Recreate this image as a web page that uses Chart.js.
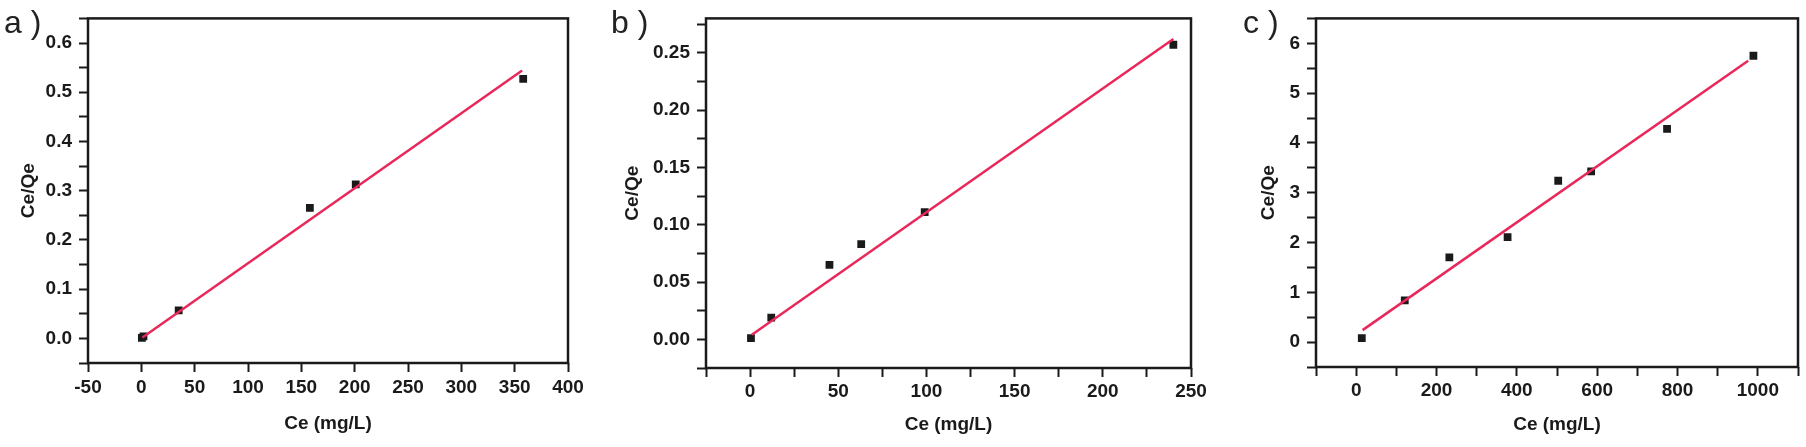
<!DOCTYPE html>
<html>
<head>
<meta charset="utf-8">
<script src="https://cdn.jsdelivr.net/npm/chart.js@4.4.1/dist/chart.umd.min.js"></script>
<style>
body { margin: 0; background: #fff; width: 1806px; height: 447px; position: relative; overflow: hidden; }
canvas { position: absolute; top: 0; }
.tag { position: absolute; top: 6px; font-family: "Liberation Sans", Arial, sans-serif; font-size: 32px; line-height: 32px; color: #222; white-space: pre; }
</style>
</head>
<body>
<canvas id="chartA" width="600" height="447" style="left:0px"></canvas>
<canvas id="chartB" width="630" height="447" style="left:600px"></canvas>
<canvas id="chartC" width="606" height="447" style="left:1200px"></canvas>
<div class="tag" style="left:4px">a )</div>
<div class="tag" style="left:611px">b )</div>
<div class="tag" style="left:1243px">c )</div>
<script>
const ceA = [0.5, 2, 35, 158, 201, 358];
const qeA = [0.001, 0.004, 0.057, 0.265, 0.313, 0.527];
const fitCeA = [1, 357];
const fitQeA = [0.002, 0.544];

const ceB = [0.5, 12, 45, 63, 99, 240];
const qeB = [0.001, 0.019, 0.065, 0.083, 0.111, 0.257];
const fitCeB = [1, 240];
const fitQeB = [0.004, 0.262];

const ceC = [14, 121, 232, 377, 503, 585, 774, 989];
const qeC = [0.08, 0.84, 1.70, 2.11, 3.24, 3.43, 4.28, 5.75];
const fitCeC = [16, 976];
const fitQeC = [0.24, 5.65];

const xTitle = 'Ce (mg/L)';
const yTitle = 'Ce/Qe';

const ink = '#1a1a1a';
const fitColor = 'rgb(232, 40, 90)';
const fontFamily = '"Liberation Sans", Arial, sans-serif';

function toPoints(xs, ys) {
    return xs.map((x, i) => ({x: x, y: ys[i]}));
}

function stepTicks(min, max, step) {
    let ticks = [];
    const n = Math.floor((max - min) / step + 1e-9);
    for (let i = 0; i <= n; i++) {
        ticks.push({value: +(min + i * step).toFixed(6)});
    }
    return ticks;
}

function isMultiple(value, major) {
    const r = value / major;
    return Math.abs(r - Math.round(r)) < 1e-6;
}

const frame = {
    id: 'frame',
    afterDraw(chart) {
        const {ctx, chartArea} = chart;
        ctx.save();
        ctx.strokeStyle = ink;
        ctx.lineWidth = 2.5;
        ctx.strokeRect(chartArea.left, chartArea.top, chartArea.right - chartArea.left, chartArea.bottom - chartArea.top);
        ctx.restore();
    }
};

function axis(opts) {
    const horizontal = opts.horizontal;
    return {
        type: 'linear',
        position: horizontal ? 'bottom' : 'left',
        min: opts.min,
        max: opts.max,
        afterBuildTicks(scale) {
            scale.ticks = stepTicks(opts.min, opts.max, opts.step);
        },
        afterFit(scale) {
            if (horizontal) {
                scale.height = opts.size;
            } else {
                scale.width = opts.size;
            }
        },
        border: {display: false},
        grid: {
            display: true,
            drawOnChartArea: false,
            drawTicks: true,
            tickLength: 9,
            tickWidth: 2,
            tickColor: ink
        },
        ticks: {
            autoSkip: false,
            maxRotation: 0,
            padding: opts.tickPad,
            color: ink,
            font: {family: fontFamily, size: 19, weight: 'bold'},
            callback: (value) => isMultiple(value, opts.major) ? opts.format(value) : ''
        },
        title: {
            display: true,
            text: horizontal ? xTitle : yTitle,
            color: ink,
            font: {family: fontFamily, size: 19, weight: 'bold'},
            padding: horizontal ? {top: 0, bottom: opts.titlePad} : {top: opts.titlePad, bottom: 0}
        }
    };
}

function makePanel(id, cfg) {
    new Chart(document.getElementById(id), {
        type: 'scatter',
        data: {
            datasets: [
                {
                    data: toPoints(cfg.fitX, cfg.fitY),
                    showLine: true,
                    borderColor: fitColor,
                    borderWidth: 2.5,
                    pointRadius: 0
                },
                {
                    data: toPoints(cfg.x, cfg.y),
                    pointStyle: 'rect',
                    pointRadius: 5.5,
                    backgroundColor: ink,
                    borderWidth: 0
                }
            ]
        },
        options: {
            responsive: false,
            animation: false,
            layout: {padding: {left: 0, top: cfg.top, right: cfg.right, bottom: 0}},
            plugins: {legend: {display: false}, tooltip: {enabled: false}},
            scales: {
                x: axis(Object.assign({horizontal: true}, cfg.xAxis)),
                y: axis(Object.assign({horizontal: false}, cfg.yAxis))
            }
        },
        plugins: [frame]
    });
}

makePanel('chartA', {
    x: ceA, y: qeA, fitX: fitCeA, fitY: fitQeA,
    top: 7, right: 32,
    xAxis: {min: -50, max: 400, step: 50, major: 50, format: v => String(v), size: 84, tickPad: 4, titlePad: 12},
    yAxis: {min: -0.05, max: 0.65, step: 0.05, major: 0.1, format: v => v.toFixed(1), size: 88, tickPad: 7, titlePad: 17}
});

makePanel('chartB', {
    x: ceB, y: qeB, fitX: fitCeB, fitY: fitQeB,
    top: 7, right: 39,
    xAxis: {min: -25, max: 250, step: 25, major: 50, format: v => String(v), size: 79, tickPad: 3, titlePad: 11},
    yAxis: {min: -0.025, max: 0.28, step: 0.025, major: 0.05, format: v => v.toFixed(2), size: 106, tickPad: 7, titlePad: 21}
});

makePanel('chartC', {
    x: ceC, y: qeC, fitX: fitCeC, fitY: fitQeC,
    top: 7, right: 8,
    xAxis: {min: -100, max: 1100, step: 100, major: 200, format: v => String(v), size: 80, tickPad: 3, titlePad: 11},
    yAxis: {min: -0.5, max: 6.5, step: 0.5, major: 1, format: v => String(v), size: 116, tickPad: 7, titlePad: 57}
});
</script>
</body>
</html>
